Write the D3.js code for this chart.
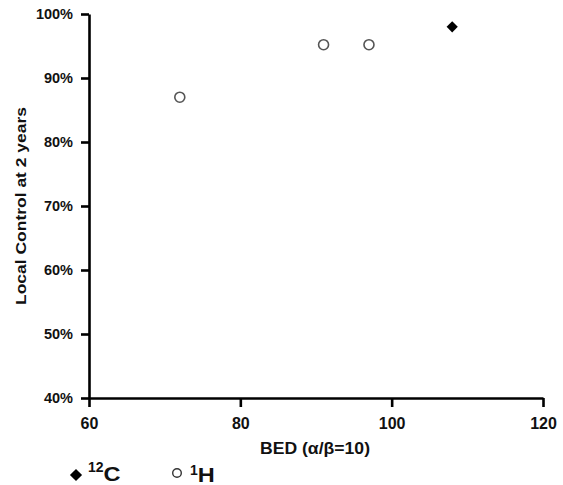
<!DOCTYPE html>
<html>
<head>
<meta charset="utf-8">
<script src="https://cdn.jsdelivr.net/npm/d3@7"></script>
<style>
  body { margin: 0; background: #fff; }
  svg { display: block; font-family: "Liberation Sans", Arial, sans-serif; }
</style>
</head>
<body>
<svg id="chart" width="563" height="485"></svg>
<script>
// data
var carbonBED = [108];
var carbonLC = [0.98];
var protonBED = [72, 91, 97];
var protonLC = [0.87, 0.952, 0.952];
var xTicks = [60, 80, 100, 120];
var yTicks = [0.4, 0.5, 0.6, 0.7, 0.8, 0.9, 1.0];

var svg = d3.select("#chart");

var x = d3.scaleLinear().domain([60, 120]).range([89, 543]);
var y = d3.scaleLinear().domain([0.4, 1.0]).range([398, 14]);

// y axis
var gy = svg.append("g")
    .attr("transform", "translate(89,0)")
    .call(d3.axisLeft(y).tickValues(yTicks).tickFormat(d3.format(".0%"))
      .tickSize(8).tickSizeOuter(0).tickPadding(8));

// x axis
var gx = svg.append("g")
    .attr("transform", "translate(0,398)")
    .call(d3.axisBottom(x).tickValues(xTicks)
      .tickSize(9).tickSizeOuter(0).tickPadding(11));

function styleAxis(g, fs) {
	g.select(".domain").attr("stroke", "#000").attr("stroke-width", 2.6);
	g.selectAll(".tick line").attr("stroke", "#000").attr("stroke-width", 2.6);
	g.selectAll(".tick text")
	  .attr("fill", "#111")
	  .style("font-size", fs + "px")
	  .style("font-weight", "bold");
	g.attr("font-family", null);
}
styleAxis(gy, 14.5);
styleAxis(gx, 16);

// axis titles (the original lettering is a bit wide, hence textLength)
svg.append("text")
    .attr("x", 260)
    .attr("y", 454)
    .attr("textLength", 110)
    .attr("lengthAdjust", "spacingAndGlyphs")
    .style("font-size", "16.5px")
    .style("font-weight", "bold")
    .attr("fill", "#111")
    .text("BED (\u03b1/\u03b2=10)");

svg.append("text")
    .attr("transform", "translate(26,305) rotate(-90)")
    .attr("textLength", 198)
    .attr("lengthAdjust", "spacingAndGlyphs")
    .style("font-size", "15.5px")
    .style("font-weight", "bold")
    .attr("fill", "#111")
    .text("Local Control at 2 years");

// points
var diamond = d3.symbol().type(d3.symbolDiamond2).size(80);

svg.selectAll(".proton")
  .data(protonBED)
  .enter().append("circle")
    .attr("class", "proton")
    .attr("cx", function(d) { return x(d); })
    .attr("cy", function(d, i) { return y(protonLC[i]); })
    .attr("r", 5)
    .attr("fill", "#fff")
    .attr("stroke", "#555")
    .attr("stroke-width", 1.6);

svg.selectAll(".carbon")
  .data(carbonBED)
  .enter().append("path")
    .attr("class", "carbon")
    .attr("d", diamond)
    .attr("transform", function(d, i) { return "translate(" + x(d) + "," + y(carbonLC[i]) + ")"; })
    .attr("fill", "#000");

// legend
var lg = svg.append("g");
lg.append("path")
    .attr("d", d3.symbol().type(d3.symbolDiamond2).size(95))
    .attr("transform", "translate(76,475)")
    .attr("fill", "#000");
var t1 = lg.append("text").attr("x", 88).attr("y", 481).attr("fill", "#111");
t1.append("tspan").attr("dy", -9).style("font-size", "14px").style("font-weight", "bold").text("12");
t1.append("tspan").attr("dy", 9).style("font-size", "20px").style("font-weight", "bold")
  .attr("textLength", 17).attr("lengthAdjust", "spacingAndGlyphs").text("C");

lg.append("circle")
    .attr("cx", 177).attr("cy", 473).attr("r", 4.3)
    .attr("fill", "#fff").attr("stroke", "#333").attr("stroke-width", 1.4);
var t2 = lg.append("text").attr("x", 190).attr("y", 482).attr("fill", "#111");
t2.append("tspan").attr("dy", -7).style("font-size", "14px").style("font-weight", "bold").text("1");
t2.append("tspan").attr("dy", 7).style("font-size", "20px").style("font-weight", "bold")
  .attr("textLength", 17).attr("lengthAdjust", "spacingAndGlyphs").text("H");
</script>
</body>
</html>
